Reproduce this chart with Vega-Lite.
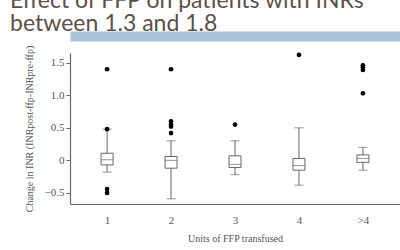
{
  "$schema": "https://vega.github.io/schema/vega-lite/v6.json",
  "width": 330,
  "height": 151,
  "padding": {"left": 10, "top": -10, "right": 5, "bottom": 5},
  "background": "white",
  "title": {
    "text": ["Effect of FFP on patients with INRs", "between 1.3 and 1.8"],
    "font": "Lato",
    "fontSize": 23,
    "fontWeight": "normal",
    "color": "#5d4f48",
    "anchor": "start",
    "frame": "bounds",
    "lineHeight": 23,
    "offset": 0,
    "dx": -14
  },
  "datasets": {
    "stats": [
      {"units": "1", "lower": -0.18, "q1": -0.07, "median": 0.01, "q3": 0.11, "upper": 0.48},
      {"units": "2", "lower": -0.59, "q1": -0.12, "median": 0.0, "q3": 0.06, "upper": 0.30},
      {"units": "3", "lower": -0.22, "q1": -0.11, "median": -0.06, "q3": 0.07, "upper": 0.30},
      {"units": "4", "lower": -0.38, "q1": -0.15, "median": -0.08, "q3": 0.03, "upper": 0.50},
      {"units": ">4", "lower": -0.15, "q1": -0.03, "median": 0.03, "q3": 0.085, "upper": 0.20}
    ],
    "outliers": [
      {"units": "1", "value": 1.40},
      {"units": "1", "value": 0.48},
      {"units": "1", "value": -0.44},
      {"units": "1", "value": -0.50},
      {"units": "2", "value": 1.40},
      {"units": "2", "value": 0.60},
      {"units": "2", "value": 0.55},
      {"units": "2", "value": 0.52},
      {"units": "2", "value": 0.42},
      {"units": "3", "value": 0.55},
      {"units": "4", "value": 1.62},
      {"units": ">4", "value": 1.46},
      {"units": ">4", "value": 1.43},
      {"units": ">4", "value": 1.39},
      {"units": ">4", "value": 1.03}
    ]
  },
  "config": {
    "view": {"stroke": null},
    "axis": {
      "labelFont": "Liberation Serif",
      "titleFont": "Liberation Serif",
      "labelFontSize": 11,
      "titleFontSize": 10,
      "titleFontWeight": "normal",
      "labelColor": "#555555",
      "titleColor": "#555555",
      "domainColor": "#666666",
      "tickColor": "#666666",
      "grid": false
    }
  },
  "resolve": {"axis": {"x": "independent"}},
  "layer": [
    {
      "data": {"name": "stats"},
      "mark": {"type": "rule", "color": "#666666", "strokeWidth": 1},
      "encoding": {
        "x": {
          "field": "units",
          "type": "ordinal",
          "sort": ["1", "2", "3", "4", ">4"],
          "scale": {"type": "point", "padding": 0.58},
          "axis": {"title": "Units of FFP transfused", "labelAngle": 0, "ticks": false, "labelPadding": 10, "titlePadding": 8, "domainWidth": 1.2}
        },
        "y": {
          "field": "lower",
          "type": "quantitative",
          "scale": {"domain": [-0.67, 1.65], "nice": false, "zero": false},
          "axis": {
            "title": "Change in INR (INRpost-ffp-INRpre-ffp)",
            "values": [-0.5, 0, 0.5, 1, 1.5],
            "tickCount": 10,
            "labelExpr": "datum.value == 0 ? '0' : format(datum.value, '.1f')",
            "labelOverlap": false,
            "tickSize": 4,
            "titlePadding": 10,
            "labelPadding": 2,
            "domainWidth": 1.2
          }
        },
        "y2": {"field": "upper"}
      }
    },
    {
      "data": {"name": "stats"},
      "mark": {"type": "tick", "color": "#666666", "size": 9, "thickness": 1},
      "encoding": {
        "x": {
          "field": "units", "type": "ordinal", "sort": ["1", "2", "3", "4", ">4"],
          "axis": {"orient": "top", "title": null, "labels": false, "ticks": false, "domainColor": "#a7c4d8", "domainWidth": 10, "offset": 17}
        },
        "y": {"field": "lower", "type": "quantitative"}
      }
    },
    {
      "data": {"name": "stats"},
      "mark": {"type": "tick", "color": "#666666", "size": 9, "thickness": 1},
      "encoding": {
        "x": {"field": "units", "type": "ordinal", "sort": ["1", "2", "3", "4", ">4"], "axis": null},
        "y": {"field": "upper", "type": "quantitative"}
      }
    },
    {
      "data": {"name": "stats"},
      "mark": {"type": "bar", "fill": "white", "stroke": "#666666", "strokeWidth": 1, "size": 12},
      "encoding": {
        "x": {"field": "units", "type": "ordinal", "sort": ["1", "2", "3", "4", ">4"], "axis": null},
        "y": {"field": "q1", "type": "quantitative"},
        "y2": {"field": "q3"}
      }
    },
    {
      "data": {"name": "stats"},
      "mark": {"type": "tick", "color": "#666666", "size": 12, "thickness": 1},
      "encoding": {
        "x": {"field": "units", "type": "ordinal", "sort": ["1", "2", "3", "4", ">4"], "axis": null},
        "y": {"field": "median", "type": "quantitative"}
      }
    },
    {
      "data": {"name": "outliers"},
      "mark": {"type": "point", "filled": true, "color": "black", "opacity": 1, "size": 22},
      "encoding": {
        "x": {"field": "units", "type": "ordinal", "sort": ["1", "2", "3", "4", ">4"], "axis": null},
        "y": {"field": "value", "type": "quantitative"}
      }
    }
  ]
}
